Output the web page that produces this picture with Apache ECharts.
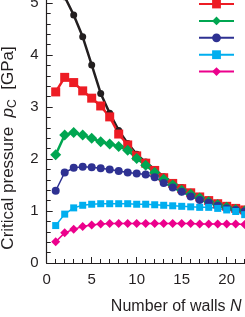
<!DOCTYPE html>
<html><head><meta charset="utf-8">
<script src="https://cdn.jsdelivr.net/npm/echarts@6/dist/echarts.min.js"></script>
<style>html,body{margin:0;padding:0;background:#fff}#c{width:245px;height:317px}</style>
</head><body><div id="c"></div><script>
const walls = [1,2,3,4,5,6,7,8,9,10,11,12,13,14,15,16,17,18,19,20,21,22];
const blackVals = [5.35,5.12,4.77,4.35,3.81,3.26,2.88,2.55,2.30,2.09,1.94,1.80,1.66,1.55,1.45,1.36,1.28,1.21,1.15,1.10,1.06,1.03];
const redVals = [3.29,3.57,3.47,3.31,3.17,3.02,2.81,2.48,2.27,2.06,1.92,1.78,1.64,1.53,1.43,1.35,1.27,1.20,1.14,1.09,1.05,1.02];
const greenVals = [2.08,2.46,2.51,2.46,2.40,2.33,2.29,2.24,2.17,2.01,1.88,1.74,1.61,1.50,1.40,1.32,1.25,1.18,1.12,1.07,1.03,1.00];
const navyVals = [1.39,1.74,1.83,1.85,1.84,1.82,1.80,1.77,1.74,1.72,1.70,1.65,1.54,1.45,1.37,1.28,1.21,1.16,1.10,1.05,1.02,0.99];
const cyanVals = [0.72,0.94,1.06,1.11,1.13,1.14,1.14,1.14,1.14,1.13,1.13,1.12,1.11,1.10,1.09,1.08,1.07,1.07,1.05,1.02,0.99,0.93];
const magentaVals = [0.41,0.58,0.65,0.70,0.73,0.75,0.76,0.76,0.76,0.76,0.76,0.76,0.76,0.76,0.76,0.76,0.75,0.75,0.75,0.75,0.75,0.74];
const xTicks = [0,5,10,15,20];
const yTicks = [0,1,2,3,4,5];

const FONT = '"Liberation Sans", Arial, Helvetica, sans-serif';
const INK = '#231f20';
function pairs(v){ return walls.map((w,i)=>[w,v[i]]); }
function ser(name, vals, color, symbol, size, width){
  return {name, type:'line', data:pairs(vals), symbol, symbolSize:size,
    lineStyle:{color, width}, itemStyle:{color}, animation:false, z:2};
}
const chart = echarts.init(document.getElementById('c'), null, {renderer:'canvas'});
chart.setOption({
  animation:false,
  textStyle:{fontFamily:FONT},
  grid:{left:46.7, right:-26.7, top:-49, bottom:54, containLabel:false, outerBoundsMode:'none'},
  legend:{orient:'vertical', left:193, top:-6.5, itemWidth:35, itemHeight:11, itemGap:7,
    formatter:()=>'', data:['a','b','c','d','e'], textStyle:{fontSize:1}},
  xAxis:{type:'value', min:0, max:25, interval:5,
    name:'{a|Number of walls }{i|N}', nameLocation:'middle', nameGap:36,
    nameTextStyle:{color:INK, fontFamily:FONT, fontSize:16, padding:[0,0,0,34],
      rich:{a:{fontSize:16, color:INK, fontFamily:FONT}, i:{fontSize:16, color:INK, fontFamily:FONT, fontStyle:'italic'}}},
    axisLine:{onZero:false, lineStyle:{color:INK, width:1.2}},
    axisTick:{inside:true, length:6, lineStyle:{color:INK, width:1}},
    minorTick:{show:true, splitNumber:5, length:4, lineStyle:{color:INK, width:1}},
    axisLabel:{color:INK, fontSize:15, fontFamily:FONT, margin:9,
      formatter:v=> xTicks.includes(v) ? String(v) : ''},
    splitLine:{show:false}},
  yAxis:{type:'value', min:0, max:6, interval:1,
    name:'{a|Critical pressure  }{i|p}{s|C}{a|  [GPa]}', nameLocation:'middle', nameGap:28,
    nameTextStyle:{color:INK, fontFamily:FONT, fontSize:17, padding:[0,82,0,0],
      rich:{a:{fontSize:17, color:INK, fontFamily:FONT, lineHeight:21},
            i:{fontSize:17, color:INK, fontFamily:FONT, fontStyle:'italic', lineHeight:21},
            s:{fontSize:12, color:INK, fontFamily:FONT, verticalAlign:'bottom', lineHeight:15}}},
    axisLine:{onZero:false, lineStyle:{color:INK, width:1.2}},
    axisTick:{inside:true, length:6, lineStyle:{color:INK, width:1}},
    minorTick:{show:true, splitNumber:5, length:4, lineStyle:{color:INK, width:1}},
    axisLabel:{color:INK, fontSize:15, fontFamily:FONT, margin:8,
      formatter:v=> yTicks.includes(v) ? String(v) : ''},
    splitLine:{show:false}},
  series:[
    ser('k', blackVals, '#231f20', 'circle', 7, 2.5),
    ser('a', redVals, '#ed1c24', 'rect', 9, 2.5),
    ser('b', greenVals, '#00a651', 'diamond', 11, 2.5),
    ser('c', navyVals, '#2e3192', 'circle', 8, 1.5),
    ser('d', cyanVals, '#00aeef', 'rect', 7, 1.5),
    ser('e', magentaVals, '#ec008c', 'diamond', 9, 1.5)
  ]
});
</script></body></html>
